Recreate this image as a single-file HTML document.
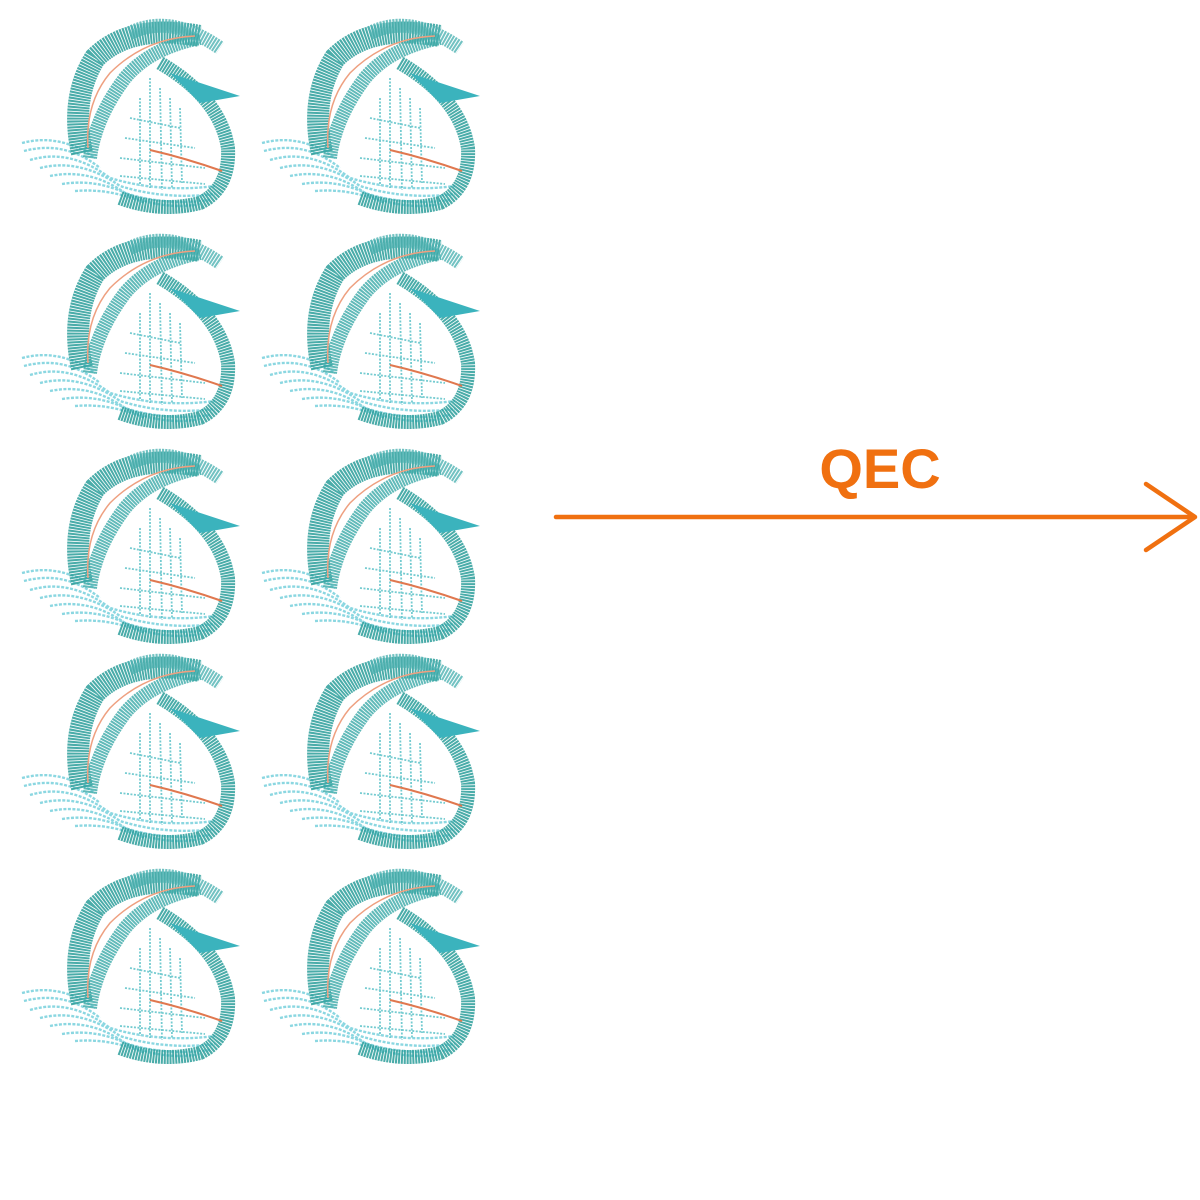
<!DOCTYPE html>
<html><head><style>
html,body{margin:0;padding:0;background:#fff;width:1200px;height:1200px;overflow:hidden}
</style></head><body>
<svg width="1200" height="1200" viewBox="0 0 1200 1200" xmlns="http://www.w3.org/2000/svg">
<defs>
<g id="p">
  <g fill="none" stroke="#7fd3de" stroke-width="2.4" stroke-dasharray="3 1.5" opacity="0.9">
    <path d="M22 135 Q60 125 95 150"/>
    <path d="M24 143 Q65 132 100 160"/>
    <path d="M30 152 Q70 140 110 170 Q160 185 215 178"/>
    <path d="M40 160 Q80 150 120 178 Q165 192 215 186"/>
    <path d="M50 168 Q90 160 125 185 Q165 198 210 192"/>
    <path d="M62 176 Q100 170 135 190 Q170 202 200 196"/>
    <path d="M75 183 Q110 180 145 195"/>
  </g>
  <g fill="none" stroke="#5cc2c8" stroke-width="1.8" stroke-dasharray="2 1.5" opacity="0.85">
    <path d="M150 70 L150 180"/><path d="M160 80 L162 182"/><path d="M140 90 L140 178"/><path d="M170 90 L172 180"/><path d="M180 100 L182 175"/>
    <path d="M130 110 L180 120"/><path d="M125 130 L195 140"/><path d="M120 150 L205 160"/><path d="M120 168 L205 176"/>
  </g>
  <path d="M82 145 Q70 90 95 50 Q130 15 200 28" fill="none" stroke="#2a9d9a" stroke-width="22" stroke-dasharray="2 0.8" opacity="0.85"/>
  <path d="M90 150 Q95 110 125 70 Q150 40 200 30" fill="none" stroke="#3aa9a8" stroke-width="14" stroke-dasharray="2 0.8" opacity="0.8"/>
  <path d="M130 25 Q170 5 220 40" fill="none" stroke="#4fb3b3" stroke-width="14" stroke-dasharray="2 1" opacity="0.8"/>
  <path d="M160 55 Q220 90 228 140 Q230 180 200 195 Q160 205 120 190" fill="none" stroke="#2a9d9a" stroke-width="14" stroke-dasharray="2 0.8" opacity="0.85"/>
  <path d="M170 65 L240 88 L200 95 Z" fill="#3bb3bd"/>
  <path d="M150 142 Q185 150 222 163" fill="none" stroke="#e0784f" stroke-width="2"/>
  <path d="M88 140 Q85 95 110 65 Q145 30 195 28" fill="none" stroke="#eea080" stroke-width="1.5"/>
</g>
</defs>
<use href="#p" x="0" y="8"/><use href="#p" x="240" y="8"/>
<use href="#p" x="0" y="223"/><use href="#p" x="240" y="223"/>
<use href="#p" x="0" y="438"/><use href="#p" x="240" y="438"/>
<use href="#p" x="0" y="643"/><use href="#p" x="240" y="643"/>
<use href="#p" x="0" y="858"/><use href="#p" x="240" y="858"/>
<line x1="556" y1="517" x2="1194" y2="517" stroke="#f07010" stroke-width="4.5" stroke-linecap="round"/>
<polyline points="1146,484 1195,517 1146,550" fill="none" stroke="#f07010" stroke-width="4.5" stroke-linecap="round" stroke-linejoin="round"/>
<text x="880" y="488" text-anchor="middle" font-family="Liberation Sans, sans-serif" font-weight="bold" font-size="56" fill="#f07010">QEC</text>
</svg>
</body></html>
